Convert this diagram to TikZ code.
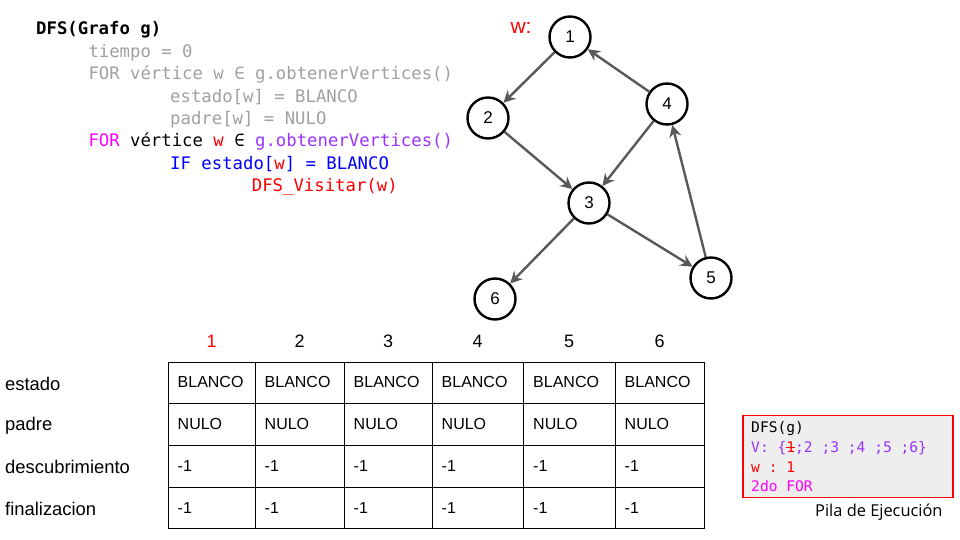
\documentclass[tikz,border=0pt]{standalone}
\usepackage{fontspec}
\setmainfont{Liberation Sans}
\setmonofont{DejaVu Sans Mono}
\newfontfamily\pilafont{Open Sans}
\usetikzlibrary{arrows.meta}
\definecolor{codegray}{HTML}{A0A0A0}
\definecolor{codepurple}{HTML}{9933FF}
\definecolor{codemagenta}{HTML}{FF00FF}
\definecolor{codeblue}{HTML}{0000FF}
\definecolor{codered}{HTML}{FF0000}
\definecolor{edgegray}{HTML}{595959}
\definecolor{stackfill}{HTML}{EEEEEE}
\tikzset{
  codeline/.style={anchor=base west, inner sep=0pt, font=\ttfamily\fontsize{17.3}{20}\selectfont},
  stackline/.style={anchor=base west, inner sep=0pt, font=\ttfamily\fontsize{14.6}{17}\selectfont},
  vertex/.style={circle, draw=black, line width=2.4pt, minimum size=41pt, inner sep=0pt, font=\fontsize{17}{20}\selectfont},
  edge/.style={draw=edgegray, line width=2.4pt, -{Stealth[length=12pt,width=12pt,inset=4pt]}},
  cell/.style={anchor=west, inner sep=0pt, font=\fontsize{16}{19}\selectfont},
  rowlabel/.style={anchor=west, inner sep=0pt, font=\fontsize{18.4}{21}\selectfont},
  colhead/.style={anchor=center, inner sep=0pt, font=\fontsize{18}{21}\selectfont},
  gridline/.style={draw=black, line width=0.9pt}
}
\begin{document}
\begin{tikzpicture}[x=1pt,y=-1pt]
\useasboundingbox (0,0) rectangle (960,540);
% code
\node[codeline, font=\ttfamily\bfseries\fontsize{17.3}{20}\selectfont] (c0) at (36,35) {DFS(Grafo g)};
\node[codeline, text=codegray] (c1) at (88.3,57.4) {tiempo = 0};
\node[codeline, text=codegray] (c2) at (88.3,79.8) {FOR vértice w ∈ g.obtenerVertices()};
\node[codeline, text=codegray] (c3) at (170,102.2) {estado[w] = BLANCO};
\node[codeline, text=codegray] (c4) at (170,124.6) {padre[w] = NULO};
\node[codeline] (c5) at (88.3,147) {\textcolor{codemagenta}{FOR} vértice \textcolor{codered}{w} ∈ \textcolor{codepurple}{g.obtenerVertices()}};
\node[codeline, text=codeblue] (c6) at (170,169.4) {IF estado[\textcolor{codered}{w}] = BLANCO};
\node[codeline, text=codered] (c7) at (251.7,191.8) {DFS\_Visitar(w)};
% graph
\node[anchor=center, inner sep=0pt, text=codered, font=\fontsize{21}{24}\selectfont] (wlab) at (521,28) {w:};
\node[vertex] (n1) at (570,37) {1};
\node[vertex] (n2) at (488,118) {2};
\node[vertex] (n4) at (667,104) {4};
\node[vertex] (n3) at (589,203) {3};
\node[vertex] (n5) at (711,278) {5};
\node[vertex] (n6) at (495,299) {6};
\draw[edge] (n1) -- (n2);
\draw[edge] (n4) -- (n1);
\draw[edge] (n2) -- (n3);
\draw[edge] (n4) -- (n3);
\draw[edge] (n5) -- (n4);
\draw[edge] (n3) -- (n6);
\draw[edge] (n3) -- (n5);
% table
\foreach \x in {168,255.5,344,432,523.5,615,704.5} {\draw[gridline] (\x,362.3) -- (\x,528.5);}
\foreach \y in {362.3,403.5,445.5,487.5,528.5} {\draw[gridline] (168,\y) -- (704.5,\y);}
\node[colhead, text=codered] (h1) at (211.7,341) {1};
\node[colhead] (h2) at (299.7,341) {2};
\node[colhead] (h3) at (388,341) {3};
\node[colhead] (h4) at (477.7,341) {4};
\node[colhead] (h5) at (569.2,341) {5};
\node[colhead] (h6) at (659.7,341) {6};
\node[rowlabel] (rl1) at (5,384) {estado};
\node[rowlabel] (rl2) at (5,426) {padre};
\node[rowlabel] (rl3) at (5,467) {descubrimiento};
\node[rowlabel] (rl4) at (5,509) {finalizacion};
\foreach \x [count=\i] in {177.5,264.5,353.5,441.5,533,624.5} {
  \node[cell] (e\i) at (\x,382) {BLANCO};
  \node[cell] (p\i) at (\x,424) {NULO};
  \node[cell] (d\i) at (\x,466) {-1};
  \node[cell] (f\i) at (\x,508) {-1};
}
% stack
\node[draw=codered, fill=stackfill, line width=1.3pt, minimum width=210pt, minimum height=82pt, inner sep=0pt, anchor=north west] (stack) at (742.3,415) {};
\node[stackline] (s1) at (751,432.7) {DFS(g)};
\node[stackline, text=codepurple] (s2) at (751,452.5) {V: \{\textcolor{codered}{\rlap{\raisebox{0.33em}{\rule{0.6em}{1pt}}}1};2 ;3 ;4 ;5 ;6\}};
\node[stackline, text=codered] (s3) at (751,472) {w : 1};
\node[stackline, text=codemagenta] (s4) at (751,491.5) {2do FOR};
\node[anchor=base west, inner sep=0pt, font=\pilafont\fontsize{16.4}{19}\selectfont] (pila) at (815,516.7) {Pila de Ejecución};
\end{tikzpicture}
\end{document}
